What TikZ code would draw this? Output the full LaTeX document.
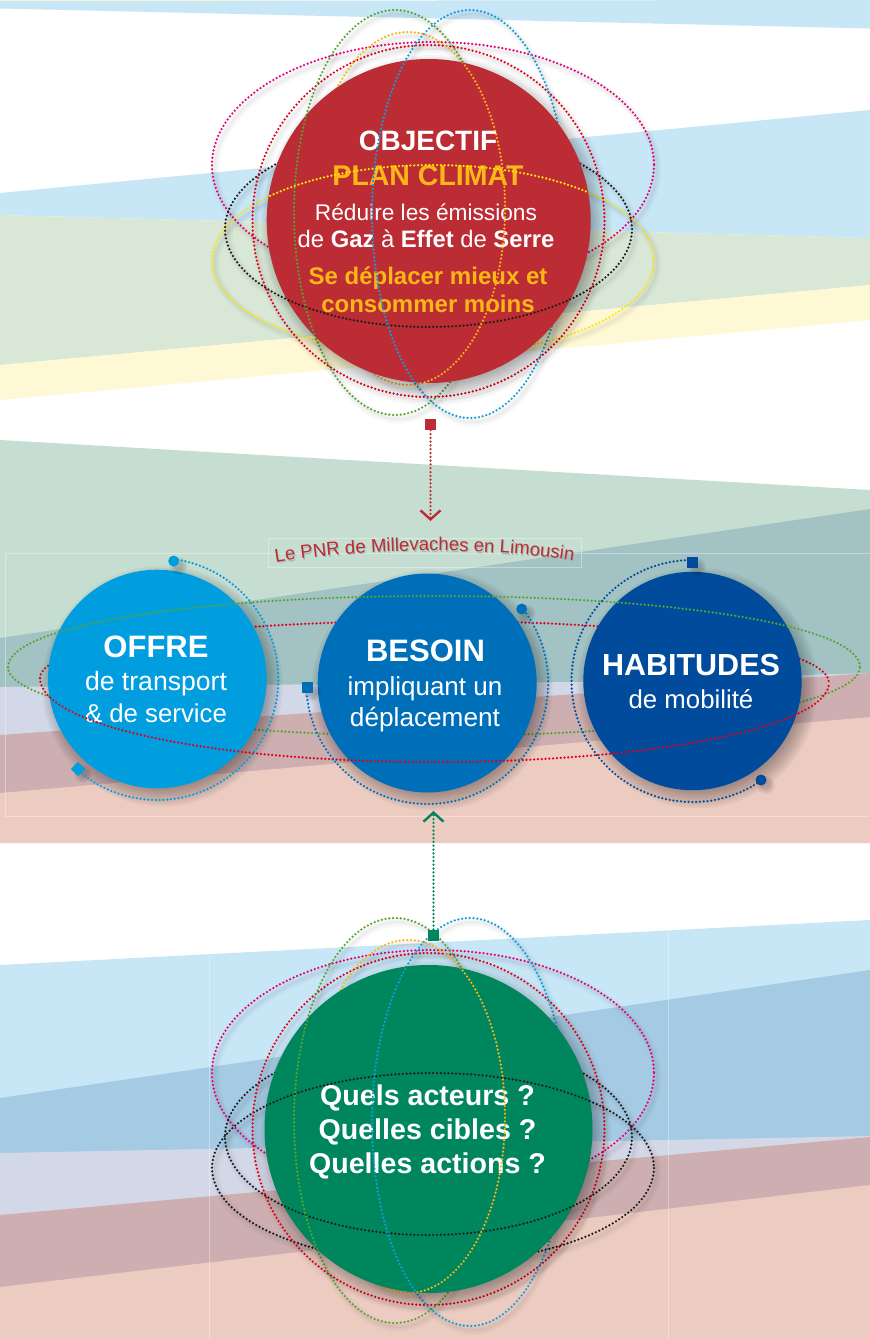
\documentclass[tikz,border=0pt]{standalone}
\usepackage{fontspec}
\setmainfont{Liberation Sans}
\usetikzlibrary{arrows.meta,decorations.text}
\definecolor{cBlueL}{HTML}{C7E6F6}
\definecolor{cGreenL}{HTML}{D9E8D6}
\definecolor{cYellowL}{HTML}{FEF8D5}
\definecolor{cGreenM}{HTML}{C6DED2}
\definecolor{cTeal}{HTML}{A2C2C4}
\definecolor{cLav}{HTML}{D3D8E8}
\definecolor{cRose}{HTML}{CDAFB1}
\definecolor{cSalmon}{HTML}{ECCBC1}
\definecolor{cBlueD}{HTML}{A5CAE3}
\definecolor{cRedC}{HTML}{BC2C35}
\definecolor{cGreenC}{HTML}{00865D}
\definecolor{cOffre}{HTML}{009DDF}
\definecolor{cBesoin}{HTML}{006FB9}
\definecolor{cHabit}{HTML}{004B9B}
\definecolor{oPink}{HTML}{E6007E}
\definecolor{oRed}{HTML}{E2001A}
\definecolor{oGreen}{HTML}{55A630}
\definecolor{oBlue}{HTML}{0F9FDF}
\definecolor{oOrange}{HTML}{F9B417}
\definecolor{oYellow}{HTML}{FFE600}
\definecolor{oBlack}{HTML}{1D1D1B}
\definecolor{tOrange}{HTML}{FBB617}
\tikzset{
  dotline/.style={line width=2.5pt,line cap=round,dash pattern=on 0pt off 3.8pt},
  halo/.style={black,opacity=.022},
  bigdisc/.style={circle,inner sep=0pt,fill=#1},
  txt/.style={inner sep=0pt,anchor=base,text=white},
  bold/.style={font=\fontsize{#1}{#1}\selectfont\bfseries},
  reg/.style={font=\fontsize{#1}{#1}\selectfont},
  marker/.style={inner sep=0pt,minimum size=11pt,fill=#1},
  faint/.style={white,opacity=.35,line width=.6pt},
}
% soft shadow of a disc
\newcommand\discshadow[3]{%
  \foreach \k in {0,...,9}{%
    \fill[black,opacity=.04] (#1+5,#2+7) circle[radius={#3+11-2.2*\k}];}%
}
% soft shadow of a marker
\newcommand\dotshadow[2]{%
  \foreach \k in {0,...,3}{%
    \fill[black,opacity=.05] (#1+5,#2+5) circle[radius={9-1.6*\k}];}%
}
% full dotted ellipse with faint halo
\newcommand\orb[5]{%
  \foreach \w in {9,5,2}{\draw[halo,line width=\w pt] (#2+3,#3+4) ellipse[x radius=#4,y radius=#5];}%
  \draw[dotline,#1] (#2,#3) ellipse[x radius=#4,y radius=#5];}
% part of a dotted ellipse, angles measured in the picture (y downward)
\newcommand\farc[7]{%
  \draw[dotline,#1] ([shift={(#6:#4 and #5)}]#2,#3) arc[start angle=#6,end angle=#7,x radius=#4,y radius=#5];}
% the orbits behind a large disc
\newcommand\orbitsback[2]{%
  \orb{oPink}{433}{#1+165}{221}{123}%
  \orb{#2}{433}{#1+260}{221}{95}%
  \orb{oBlack}{428.5}{#1+229}{203.5}{98}%
  \orb{oRed}{428.5}{#1+221}{176}{176}%
  \orb{oOrange}{408}{#1+208.5}{97}{176.5}%
  \orb{oGreen}{395}{#1+212.5}{101}{202.5}%
  \orb{oBlue}{470}{#1+214}{98}{204}}
% the parts of the orbits seen on a large disc
\newcommand\orbitsfront[2]{%
  \farc{#2}{433}{#1+260}{221}{95}{180}{360}%
  \farc{oBlack}{428.5}{#1+229}{203.5}{98}{0}{180}%
  \farc{oOrange}{408}{#1+208.5}{97}{176.5}{-90}{90}%
  \farc{oGreen}{395}{#1+212.5}{101}{202.5}{90}{270}%
  \farc{oBlue}{470}{#1+214}{98}{204}{90}{270}}
\begin{document}
\begin{tikzpicture}[x=1pt,y=-1pt]
\useasboundingbox (0,0) rectangle (870,1339);
\fill[white] (0,0) rectangle (870,1339);
% ---------- background bands
\fill[cYellowL] (0,0) -- (400,0) -- (0,2) -- cycle;
\fill[cBlueL] (0,1) -- (870,0) -- (870,28.5) -- (0,8.5) -- cycle;
\fill[cBlueL] (0,193) -- (870,110) -- (870,238) -- (0,215) -- cycle;
\fill[cGreenL] (0,215) -- (870,238) -- (870,285) -- (0,365) -- cycle;
\fill[cYellowL] (0,365) -- (870,285) -- (870,320) -- (0,400) -- cycle;
\fill[cGreenM] (0,440) -- (870,490) -- (870,700) -- (0,700) -- cycle;
\fill[cTeal] (0,638) -- (870,509) -- (870,690) -- (0,690) -- cycle;
\fill[cLav] (0,687) -- (580,682) -- (870,673) -- (870,760) -- (0,760) -- cycle;
\fill[cRose] (0,735) -- (870,673) -- (870,800) -- (0,800) -- cycle;
\fill[cSalmon] (0,793) -- (870,717) -- (870,843) -- (0,843) -- cycle;
\fill[cBlueL] (0,965) -- (870,920) -- (870,1100) -- (0,1110) -- cycle;
\fill[cBlueD] (0,1098) -- (870,970) -- (870,1140) -- (0,1160) -- cycle;
\fill[cLav] (0,1153) -- (870,1136) -- (870,1150) -- (0,1220) -- cycle;
\fill[cRose] (0,1215) -- (870,1137) -- (870,1200) -- (0,1300) -- cycle;
\fill[cSalmon] (0,1287) -- (870,1185) -- (870,1339) -- (0,1339) -- cycle;
% faint frames
\draw[faint] (870,553) -- (5.5,553) -- (5.5,816) -- (870,816);
\draw[faint] (268.5,553) -- (268.5,538) -- (581,538) -- (581,567.5) -- (268.5,567.5) -- cycle;
\draw[faint] (209,955) -- (209,1339);
\draw[faint] (668,930) -- (668,1339);
% ---------- top panel
\orbitsback{0}{oYellow}
\discshadow{428.7}{221}{162}
\node[bigdisc=cRedC,minimum size=324pt] (objectif) at (428.7,221) {};
\node[txt,bold=28] (o1) at (428,150) {OBJECTIF};
\node[txt,bold=28.5,text=tOrange] (o2) at (428,185) {PLAN CLIMAT};
\node[txt,reg=22.7] (o3) at (426,220) {Réduire les émissions};
\node[txt,reg=23.8] (o4) at (426,247) {de \textbf{Gaz} à \textbf{Effet} de \textbf{Serre}};
\node[txt,bold=24,text=tOrange] (o5) at (428,284) {Se déplacer mieux et};
\node[txt,bold=24,text=tOrange] (o6) at (428,312) {consommer moins};
\begin{scope}
  \clip (428.7,221) circle[radius=162];
  \orbitsfront{0}{oYellow}
\end{scope}
% ---------- bottom panel
\orbitsback{908}{oBlack}
\discshadow{428.5}{1129}{164}
\node[bigdisc=cGreenC,minimum size=328pt] (questions) at (428.5,1129) {};
\node[txt,bold=28.6] (q1) at (427.5,1105) {Quels acteurs ?};
\node[txt,bold=28.6] (q2) at (427.5,1139) {Quelles cibles ?};
\node[txt,bold=28.6] (q3) at (427.5,1173) {Quelles actions ?};
\begin{scope}
  \clip (428.5,1129) circle[radius=164];
  \orbitsfront{908}{oBlack}
\end{scope}
% ---------- middle: back halves of wide orbits
\draw[dotline,oGreen] (8,667) .. controls (8,705) and (200,736) .. (434,736) .. controls (668,736) and (860,705) .. (860,667);
\draw[dotline,oRed] (40,678) .. controls (40,645) and (210,621) .. (434,621) .. controls (660,621) and (829,648) .. (829,683);
\discshadow{157.3}{679}{109.3}
\discshadow{427.2}{683}{109.5}
\discshadow{692.5}{681}{109.2}
\node[bigdisc=cOffre,minimum size=218.6pt] (offre) at (157.3,679) {};
\node[bigdisc=cBesoin,minimum size=219pt] (besoin) at (427.2,683) {};
\node[bigdisc=cHabit,minimum size=218.4pt] (habitudes) at (692.5,681) {};
\node[txt,bold=31] (a1) at (156,657.5) {OFFRE};
\node[txt,reg=26.6] (a2) at (156,690.5) {de transport};
\node[txt,reg=25.8] (a3) at (156,722) {\& de service};
\node[txt,bold=31] (b1) at (425.5,661) {BESOIN};
\node[txt,reg=26] (b2) at (425,695) {impliquant un};
\node[txt,reg=26.2] (b3) at (425,726.5) {déplacement};
\node[txt,bold=30.5] (c1) at (691,675.5) {HABITUDES};
\node[txt,reg=25.8] (c2) at (691,708) {de mobilité};
% front halves of wide orbits
\draw[dotline,oGreen] (8,667) .. controls (8,625) and (200,596) .. (434,596) .. controls (668,596) and (860,625) .. (860,667);
\draw[dotline,oRed] (40,678) .. controls (40,725) and (210,762) .. (434,762) .. controls (660,762) and (829,725) .. (829,683);
% arcs with markers
\dotshadow{173.7}{561}
\dotshadow{78}{769}
\dotshadow{307.5}{687.5}
\dotshadow{521.7}{609}
\dotshadow{692}{562}
\dotshadow{761}{780}
\farc{cOffre}{157.3}{679}{121}{121}{-82}{131}
\farc{cBesoin}{427.2}{683}{121}{121}{-38.6}{178}
\farc{cHabit}{692.5}{681}{121}{121}{270}{55}
\node[circle,marker=cOffre] (d1) at (173.7,561) {};
\node[marker=cOffre,rotate=45,minimum size=10pt] (d2) at (78,769) {};
\node[marker=cBesoin] (d3) at (307.5,687.5) {};
\node[circle,marker=cBesoin] (d4) at (521.7,609) {};
\node[marker=cHabit] (d5) at (692,562) {};
\node[circle,marker=cHabit] (d6) at (761,780) {};
% curved label, with its shadow
\path[decorate,decoration={text along path,text align=center,
  text={|\fontsize{18.6}{18.6}\selectfont\color{black!16!cGreenM}|Le PNR de Millevaches en Limousin}}]
  (272,564.5) .. controls (371,548.5) and (481,548.5) .. (579,562.5);
\path[decorate,decoration={text along path,text align=center,
  text={|\fontsize{18.6}{18.6}\selectfont\color{cRedC}|Le PNR de Millevaches en Limousin}}]
  (271,563) .. controls (370,547) and (480,547) .. (578,561);
% ---------- connectors
\node[marker=cRedC] (sqA) at (430.5,424.5) {};
\coordinate (tipA) at (430.5,521);
\draw[dotline,cRedC,-{Straight Barb[length=9pt,width=20pt,line width=2.4pt]}] (sqA) -- (tipA);
\node[marker=cGreenC] (sqB) at (433.5,935) {};
\coordinate (tipB) at (433.5,811);
\draw[dotline,cGreenC,-{Straight Barb[length=9pt,width=20pt,line width=2.4pt]}] (sqB) -- (tipB);
\end{tikzpicture}
\end{document}
